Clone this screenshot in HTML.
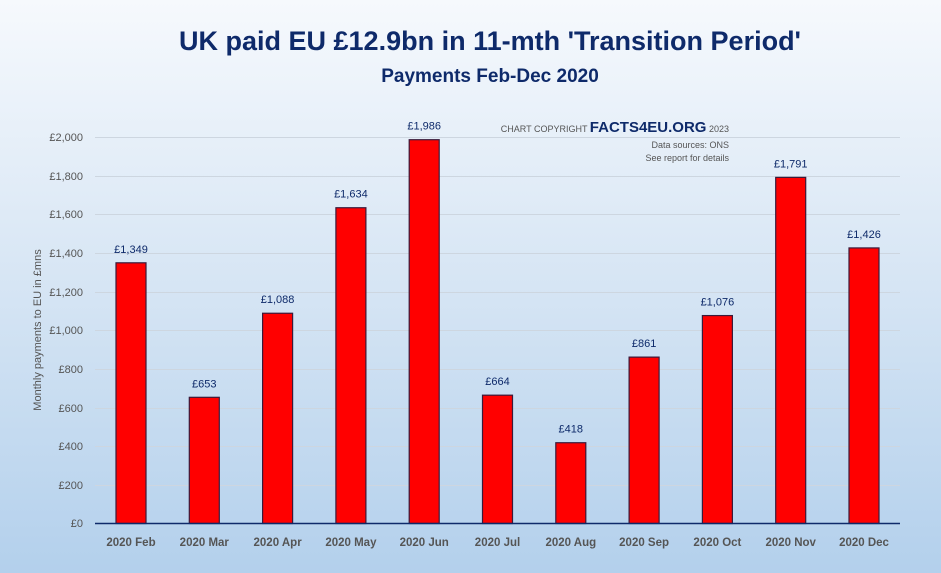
<!DOCTYPE html>
<html><head><meta charset="utf-8"><style>
body{margin:0;width:941px;height:573px;overflow:hidden}
svg{display:block}
text{font-family:"Liberation Sans",sans-serif}
</style></head><body>
<svg width="941" height="573" xmlns="http://www.w3.org/2000/svg">
<defs><linearGradient id="bg" x1="0" y1="0" x2="0" y2="1">
<stop offset="0" stop-color="#f6f9fd"/><stop offset="0.5" stop-color="#d6e5f4"/><stop offset="1" stop-color="#b3d0ec"/></linearGradient></defs>
<rect width="941" height="573" fill="url(#bg)"/>
<text x="490" y="50" text-anchor="middle" font-size="27" font-weight="bold" fill="#0e2a6a">UK paid EU £12.9bn in 11-mth 'Transition Period'</text>
<text x="490" y="82" text-anchor="middle" font-size="19" font-weight="bold" fill="#0e2a6a">Payments Feb-Dec 2020</text>
<g stroke="#cdd6e0" stroke-width="1">
<line x1="95" x2="900" y1="137.5" y2="137.5"/><line x1="95" x2="900" y1="176.5" y2="176.5"/><line x1="95" x2="900" y1="214.5" y2="214.5"/><line x1="95" x2="900" y1="253.5" y2="253.5"/><line x1="95" x2="900" y1="292.5" y2="292.5"/><line x1="95" x2="900" y1="330.5" y2="330.5"/><line x1="95" x2="900" y1="369.5" y2="369.5"/><line x1="95" x2="900" y1="408.5" y2="408.5"/><line x1="95" x2="900" y1="446.5" y2="446.5"/><line x1="95" x2="900" y1="485.5" y2="485.5"/>
</g>
<g font-size="11" fill="#555" text-anchor="end">
<text x="83" y="141">£2,000</text><text x="83" y="180">£1,800</text><text x="83" y="218">£1,600</text><text x="83" y="257">£1,400</text><text x="83" y="296">£1,200</text><text x="83" y="334">£1,000</text><text x="83" y="373">£800</text><text x="83" y="412">£600</text><text x="83" y="450">£400</text><text x="83" y="489">£200</text><text x="83" y="527">£0</text>
</g>
<text transform="translate(41,330) rotate(-90)" text-anchor="middle" font-size="11" fill="#555">Monthly payments to EU in £mns</text>
<text x="729" y="132" text-anchor="end" font-size="9" fill="#555">CHART COPYRIGHT <tspan font-size="15" font-weight="bold" fill="#0e2a6a">FACTS4EU.ORG</tspan> 2023</text>
<text x="729" y="148" text-anchor="end" font-size="9" fill="#555">Data sources: ONS</text>
<text x="729" y="161" text-anchor="end" font-size="9" fill="#555">See report for details</text>
<g id="bars" fill="#ff0000" stroke="#3a1a3a" stroke-width="1.2"></g>
<g id="lbl" font-size="11" fill="#0e2a6a" text-anchor="middle"></g>
<g id="xl" font-size="11.5" font-weight="bold" fill="#555" text-anchor="middle"></g>
<line x1="95" x2="900" y1="523.5" y2="523.5" stroke="#0e2a6a" stroke-width="1.5"/>
<script>
var v=[1349,653,1088,1634,1986,664,418,861,1076,1791,1426],m=["Feb","Mar","Apr","May","Jun","Jul","Aug","Sep","Oct","Nov","Dec"];
var ns="http://www.w3.org/2000/svg",b=document.getElementById("bars"),l=document.getElementById("lbl"),x=document.getElementById("xl");
v.forEach(function(d,i){var c=131+i*73.3,h=d*386.5/2000,y=523.5-h;
var r=document.createElementNS(ns,"rect");r.setAttribute("x",c-15);r.setAttribute("y",y);r.setAttribute("width",30);r.setAttribute("height",h);b.appendChild(r);
var t=document.createElementNS(ns,"text");t.setAttribute("x",c);t.setAttribute("y",y-10);t.textContent="£"+d.toLocaleString("en-GB");l.appendChild(t);
var u=document.createElementNS(ns,"text");u.setAttribute("x",c);u.setAttribute("y",546);u.textContent="2020 "+m[i];x.appendChild(u);});
</script>
</svg>
</body></html>
